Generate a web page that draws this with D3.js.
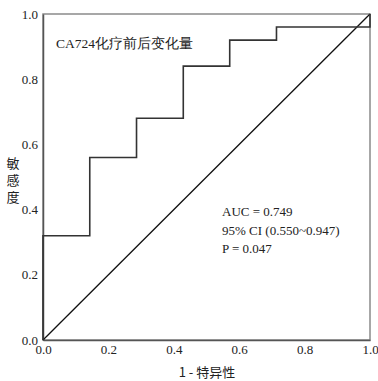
<!DOCTYPE html>
<html>
<head>
<meta charset="utf-8">
<script src="https://cdn.jsdelivr.net/npm/d3@7"></script>
<style>
  body { margin: 0; background: #fff; }
  svg text { font-family: "Liberation Serif", "Times New Roman", serif; fill: #222; }
  svg text.cjk { font-family: "Noto Sans CJK SC", sans-serif; }
</style>
</head>
<body>
<div id="chart"></div>
<script>
// ROC points (1 - specificity, sensitivity)
const fprValues = [0, 0, 0.143, 0.143, 0.286, 0.286, 0.429, 0.429, 0.571, 0.571, 0.714, 0.714, 1.0, 1.0];
const tprValues = [0, 0.32, 0.32, 0.56, 0.56, 0.68, 0.68, 0.84, 0.84, 0.92, 0.92, 0.96, 0.96, 1.0];
const tickValues = [0, 0.2, 0.4, 0.6, 0.8, 1.0];
const statLines = ['AUC = 0.749', '95% CI (0.550~0.947)', 'P = 0.047'];
const titleText = 'CA724化疗前后变化量';
const xTitle = '1 - 特异性';
const yTitle = '敏感度';

const width = 378, height = 381;
const margin = { top: 14, right: 8, bottom: 41, left: 43 };
const w = width - margin.left - margin.right;
const h = height - margin.top - margin.bottom;

const svg = d3.select('#chart').append('svg')
  .attr('width', width)
  .attr('height', height);

const g = svg.append('g')
  .attr('transform', `translate(${margin.left},${margin.top})`);

const x = d3.scaleLinear().domain([0, 1]).range([0, w]);
const y = d3.scaleLinear().domain([0, 1]).range([h, 0]);

// frame
g.append('rect')
  .attr('width', w)
  .attr('height', h)
  .attr('fill', 'none')
  .attr('stroke', '#8a8a8a')
  .attr('stroke-width', 1.5);

// axes (labels only, no tick marks)
const xAxis = g.append('g')
  .attr('transform', `translate(0,${h})`)
  .call(d3.axisBottom(x).tickValues(tickValues).tickFormat(d3.format('.1f')).tickSize(0).tickPadding(5));

const yAxis = g.append('g')
  .call(d3.axisLeft(y).tickValues(tickValues).tickFormat(d3.format('.1f')).tickSize(0).tickPadding(5));

g.selectAll('.domain').attr('stroke', '#555').attr('stroke-width', 1.5);
g.selectAll('.tick text')
  .attr('fill', '#222')
  .style('font-family', 'Liberation Serif')
  .style('font-size', '13px');

// reference diagonal
g.append('line')
  .attr('x1', x(0)).attr('y1', y(0))
  .attr('x2', x(1)).attr('y2', y(1))
  .attr('stroke', '#111')
  .attr('stroke-width', 1.3);

// ROC step curve
const points = fprValues.map((d, i) => [d, tprValues[i]]);
g.append('path')
  .datum(points)
  .attr('fill', 'none')
  .attr('stroke', '#333')
  .attr('stroke-width', 1.6)
  .attr('d', d3.line().x(d => x(d[0])).y(d => y(d[1])));

// title inside plot
svg.append('text')
  .attr('x', 56)
  .attr('y', 48)
  .style('font-size', '13.5px')
  .text(titleText);

// stats
svg.selectAll('.stat')
  .data(statLines)
  .join('text')
  .attr('class', 'stat')
  .attr('x', 222)
  .attr('y', (d, i) => 216 + i * 18.5)
  .style('font-size', '13px')
  .text(d => d);

// axis titles
svg.append('text')
  .attr('class', 'cjk')
  .attr('x', 207)
  .attr('y', 377)
  .attr('text-anchor', 'middle')
  .style('font-size', '13px')
  .text(xTitle);

svg.append('text')
  .attr('class', 'cjk')
  .attr('x', 13)
  .attr('y', 182)
  .attr('text-anchor', 'middle')
  .style('writing-mode', 'vertical-rl')
  .style('letter-spacing', '4px')
  .style('font-size', '13px')
  .text(yTitle);
</script>
</body>
</html>
